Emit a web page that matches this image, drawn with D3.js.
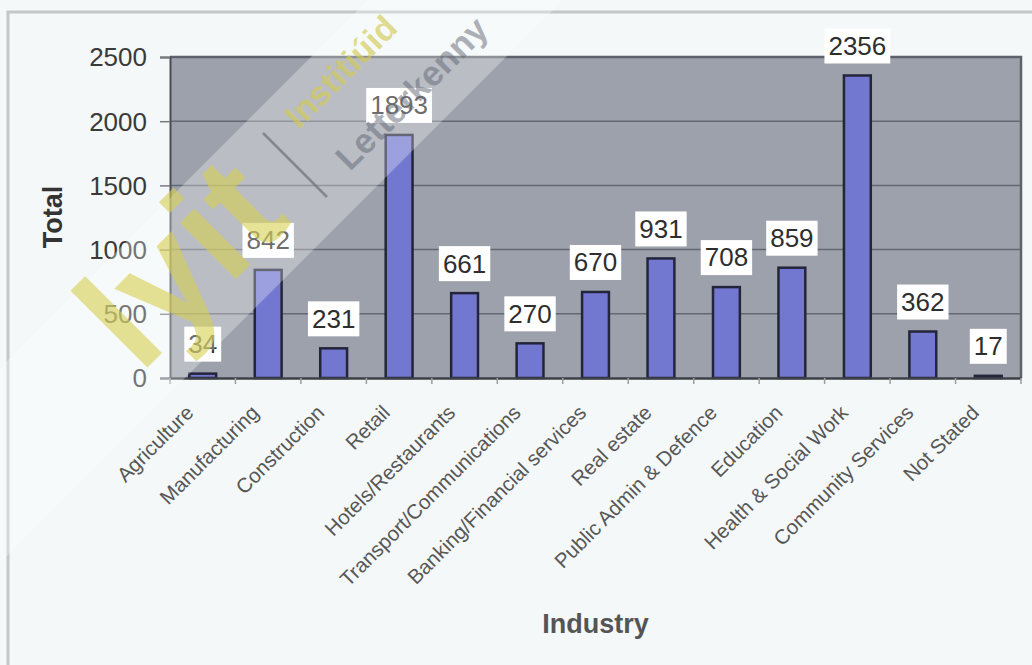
<!DOCTYPE html>
<html>
<head>
<meta charset="utf-8">
<script src="https://cdn.jsdelivr.net/npm/d3@7"></script>
<style>
  html, body { margin: 0; padding: 0; background: #f4f8f8; }
  svg { display: block; }
</style>
</head>
<body>
<svg id="chart" width="1032" height="665"></svg>
<script>
// Employment totals by industry
const categories = [
  "Agriculture", "Manufacturing", "Construction", "Retail", "Hotels/Restaurants",
  "Transport/Communications", "Banking/Financial services", "Real estate",
  "Public Admin & Defence", "Education", "Health & Social Work",
  "Community Services", "Not Stated"
];
const totals = [34, 842, 231, 1893, 661, 270, 670, 931, 708, 859, 2356, 362, 17];
const yTicks = [0, 500, 1000, 1500, 2000, 2500];
const yTitle = "Total";
const xTitle = "Industry";

const svg = d3.select("#chart");
const W = 1032, H = 665;
const plot = { left: 170, right: 1021, top: 57, bottom: 378 };

// outer frame
svg.append("rect").attr("width", W).attr("height", H).attr("fill", "#f4f8f8");
svg.append("path")
  .attr("d", `M8,${H} L8,12 L${W},12`)
  .attr("fill", "none").attr("stroke", "#c3c7c8").attr("stroke-width", 3);

const x = d3.scaleBand()
  .domain(categories)
  .range([plot.left, plot.right])
  .paddingInner(0.59)
  .paddingOuter(0.295);
const step = x.step();

const y = d3.scaleLinear().domain([0, 2500]).range([plot.bottom, plot.top]);

// plot area
svg.append("rect")
  .attr("x", plot.left).attr("y", plot.top)
  .attr("width", plot.right - plot.left).attr("height", plot.bottom - plot.top)
  .attr("fill", "#9da1ab");

// gridlines
svg.append("g").selectAll("line")
  .data(yTicks.filter(d => d > 0))
  .join("line")
  .attr("x1", plot.left).attr("x2", plot.right)
  .attr("y1", d => y(d)).attr("y2", d => y(d))
  .attr("stroke", "#646872").attr("stroke-width", 1.5);

// plot border
svg.append("path")
  .attr("d", `M${plot.left},${plot.top} L${plot.right},${plot.top} L${plot.right},${plot.bottom}`)
  .attr("fill", "none").attr("stroke", "#5e626a").attr("stroke-width", 2.5);

// y axis
const yAxis = svg.append("g")
  .attr("transform", `translate(${plot.left},0)`)
  .call(d3.axisLeft(y).tickValues(yTicks).tickSize(10).tickPadding(13).tickFormat(d3.format("d")));
yAxis.select(".domain").attr("stroke", "#4a4d55").attr("stroke-width", 2);
yAxis.selectAll(".tick line").attr("stroke", "#777b82").attr("stroke-width", 1.5);
yAxis.selectAll(".tick text")
  .attr("font-family", "'Liberation Sans', Arial, sans-serif")
  .attr("font-size", 26).attr("fill", "#3a3a3a").attr("dy", "0.34em");

// bars
svg.append("g").selectAll("rect")
  .data(categories)
  .join("rect")
  .attr("x", d => x(d))
  .attr("y", (d, i) => y(totals[i]))
  .attr("width", x.bandwidth())
  .attr("height", (d, i) => y(0) - y(totals[i]))
  .attr("fill", "#7277d0")
  .attr("stroke", "#23253a").attr("stroke-width", 2.5);

// x axis
const xAxis = svg.append("g")
  .attr("transform", `translate(0,${plot.bottom})`)
  .call(d3.axisBottom(x).tickSize(0).tickFormat(""));
xAxis.select(".domain").attr("stroke", "#3d4047").attr("stroke-width", 2.5);
xAxis.selectAll(".tick").remove();
// category boundary ticks
svg.append("g").selectAll("line")
  .data(d3.range(categories.length + 1))
  .join("line")
  .attr("x1", i => plot.left + i * step).attr("x2", i => plot.left + i * step)
  .attr("y1", plot.bottom).attr("y2", plot.bottom + 6)
  .attr("stroke", "#9a9ea4").attr("stroke-width", 1.5);

// category labels
svg.append("g").selectAll("text")
  .data(categories)
  .join("text")
  .attr("transform", d => `translate(${x(d) + x.bandwidth() / 2 - 8},${plot.bottom + 36}) rotate(-45)`)
  .attr("text-anchor", "end")
  .attr("font-family", "'Liberation Sans', Arial, sans-serif")
  .attr("font-size", 20.5)
  .attr("fill", "#575757")
  .text(d => d);

// value labels
const fmt = d3.format("d");
const lab = svg.append("g").selectAll("g")
  .data(categories)
  .join("g")
  .attr("transform", (d, i) => `translate(${x(d) + x.bandwidth() / 2},${y(totals[i]) - 30})`);
lab.append("text")
  .attr("text-anchor", "middle").attr("dy", "0.36em")
  .attr("font-family", "'Liberation Sans', Arial, sans-serif")
  .attr("font-size", 26).attr("fill", "#2e2e2e")
  .text((d, i) => fmt(totals[i]));
lab.each(function () {
  const g = d3.select(this);
  const bb = g.select("text").node().getBBox();
  g.insert("rect", "text")
    .attr("x", bb.x - 4).attr("y", -17)
    .attr("width", bb.width + 8).attr("height", 35)
    .attr("fill", "#ffffff");
});

// axis titles
svg.append("text")
  .attr("transform", `translate(62,217) rotate(-90)`)
  .attr("text-anchor", "middle")
  .attr("font-family", "'Liberation Sans', Arial, sans-serif")
  .attr("font-weight", "bold").attr("font-size", 27).attr("fill", "#333")
  .text(yTitle);
svg.append("text")
  .attr("x", (plot.left + plot.right) / 2).attr("y", 633)
  .attr("text-anchor", "middle")
  .attr("font-family", "'Liberation Sans', Arial, sans-serif")
  .attr("font-weight", "bold").attr("font-size", 27).attr("fill", "#555")
  .text(xTitle);

// watermark overlay
const wm = svg.append("g").attr("pointer-events", "none");
wm.append("path")
  .attr("d", "M0,368 L368,0 L563,0 L0,563 Z")
  .attr("fill", "#ffffff").attr("opacity", 0.3);
wm.append("text")
  .attr("transform", "translate(140,375) rotate(-45)")
  .attr("font-family", "'Liberation Sans', Arial, sans-serif")
  .attr("font-weight", "bold").attr("font-size", 150)
  .attr("fill", "#d6cf52").attr("opacity", 0.6)
  .text("lyit");
wm.append("line")
  .attr("x1", 263).attr("y1", 133).attr("x2", 327).attr("y2", 197)
  .attr("stroke", "#6c717a").attr("stroke-width", 2.5).attr("opacity", 0.7);
wm.append("text")
  .attr("transform", "translate(299,130) rotate(-45)")
  .attr("font-family", "'Liberation Sans', Arial, sans-serif")
  .attr("font-weight", "bold").attr("font-size", 34)
  .attr("fill", "#d2cc55").attr("opacity", 0.65)
  .text("Institiúid");
wm.append("text")
  .attr("transform", "translate(350,172) rotate(-45)")
  .attr("font-family", "'Liberation Sans', Arial, sans-serif")
  .attr("font-weight", "bold").attr("font-size", 35)
  .attr("fill", "#626774").attr("opacity", 0.5)
  .text("Letterkenny");
</script>
</body>
</html>
